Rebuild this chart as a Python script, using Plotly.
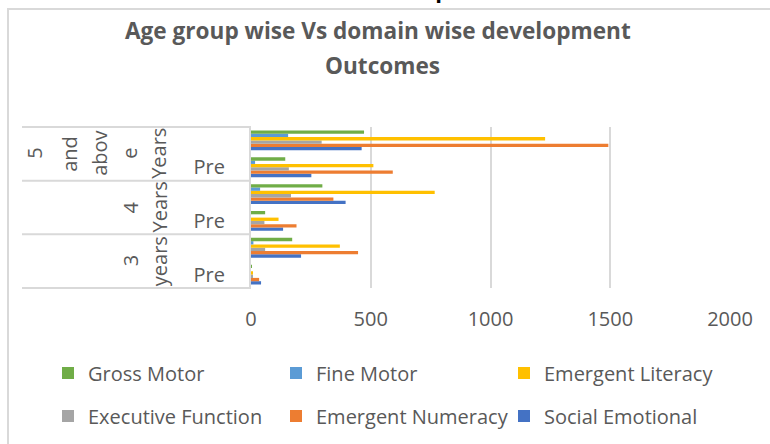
import plotly.graph_objects as go

# ---- data (bottom-to-top order of the y categories) ----
age_groups = ["3 years", "3 years", "4 Years", "4 Years", "5 and above Years", "5 and above Years"]
stages = ["Pre", "Post", "Pre", "Post", "Pre", "Post"]
stage_tick_labels = ["Pre", "", "Pre", "", "Pre", ""]

gross_motor = [3, 172, 59, 298, 143, 472]
fine_motor = [0, 10, 0, 38, 17, 155]
emergent_literacy = [6, 371, 115, 767, 511, 1228]
executive_function = [7, 59, 56, 167, 158, 295]
emergent_numeracy = [34, 447, 190, 344, 592, 1492]
social_emotional = [42, 209, 134, 395, 252, 462]

x_ticks = [0, 500, 1000, 1500, 2000]

categories = [f"{a} | {s}" for a, s in zip(age_groups, stages)]

FONT = "Open Sans, Liberation Sans, Arial, sans-serif"
TXT = "#595959"
GRID = "#D9D9D9"

# plot area in pixels
W, H = 770, 444
L, R, T, B = 251, 40, 127, 156
pw, ph = W - L - R, H - T - B

def px(xpix):
    return (xpix - L) / pw

def py(ypix):
    return (H - B - ypix) / ph

# series listed bottom-to-top inside each group (as drawn); legend slot (col, row)
series = [
    ("Social Emotional", social_emotional, "#4472C4", "legend6", 2, 1),
    ("Emergent Numeracy", emergent_numeracy, "#ED7D31", "legend5", 1, 1),
    ("Executive Function", executive_function, "#A5A5A5", "legend4", 0, 1),
    ("Emergent Literacy", emergent_literacy, "#FFC000", "legend3", 2, 0),
    ("Fine Motor", fine_motor, "#5B9BD5", "legend2", 1, 0),
    ("Gross Motor", gross_motor, "#70AD47", "legend", 0, 0),
]

legend_x = [48, 276, 504]
legend_y = [373, 416]

fig = go.Figure()
legends = {}
for name, vals, color, lg, col, row in series:
    fig.add_trace(go.Bar(
        y=categories, x=vals, name=name, orientation="h",
        marker=dict(color=color, line=dict(width=0)),
        legend=lg,
    ))
    legends[lg] = dict(orientation="h", x=px(legend_x[col]), y=py(legend_y[row]),
                       xanchor="left", yanchor="middle",
                       font=dict(size=20, color=TXT, family=FONT), bgcolor="rgba(0,0,0,0)")

fig.update_layout(
    width=W, height=H,
    margin=dict(l=L, r=R, t=T, b=B, autoexpand=False),
    paper_bgcolor="white", plot_bgcolor="white",
    barmode="group", bargap=0.26, bargroupgap=0,
    font=dict(family=FONT, size=20, color=TXT),
    xaxis=dict(range=[0, 2000], tickvals=x_ticks, showgrid=True, gridcolor=GRID,
               gridwidth=2, zeroline=False, showline=False,
               ticklabelstandoff=17, tickfont=dict(size=20, color=TXT), fixedrange=True),
    yaxis=dict(type="category", categoryorder="array", categoryarray=categories,
               tickvals=categories, ticktext=stage_tick_labels, range=[-0.5, 5.5],
               showgrid=False, showline=True, linecolor=GRID, linewidth=2,
               ticks="", ticklabelstandoff=20, tickfont=dict(size=20, color=TXT)),
    showlegend=True,
    **legends,
)

shapes = []
# outer chart border
shapes.append(dict(type="rect", xref="paper", yref="paper",
                   x0=px(8), x1=px(800), y0=py(480), y1=py(9),
                   line=dict(color=GRID, width=2), fillcolor="rgba(0,0,0,0)", layer="below"))
# group separators on the category axis
for yb in [0, 1/3, 2/3, 1]:
    shapes.append(dict(type="line", xref="paper", yref="paper",
                       x0=px(22), x1=0, y0=yb, y1=yb,
                       line=dict(color=GRID, width=2)))
fig.update_layout(shapes=shapes)

annotations = []
# titles
annotations.append(dict(text="<b>Graph – 1</b>", xref="paper", yref="paper",
                        x=px(447), y=py(6), xanchor="center", yanchor="bottom",
                        showarrow=False, font=dict(size=22, color="black", family=FONT)))
annotations.append(dict(text="<b>Age group wise Vs domain wise development</b>", xref="paper", yref="paper",
                        x=px(378), y=py(30), xanchor="center", yanchor="middle",
                        showarrow=False, font=dict(size=22.6, color=TXT, family=FONT)))
annotations.append(dict(text="<b>Outcomes</b>", xref="paper", yref="paper",
                        x=px(382), y=py(65), xanchor="center", yanchor="middle",
                        showarrow=False, font=dict(size=22.6, color=TXT, family=FONT)))

# outer (age group) labels, wrapped vertically like the original
outer = [
    (5 / 6, [("5", 35), ("and", 70), ("abov", 100), ("e", 130), ("Years", 159)]),
    (1 / 2, [("4", 130), ("Years", 159)]),
    (1 / 6, [("3", 130), ("years", 159)]),
]
for yc, words in outer:
    for w, xc in words:
        annotations.append(dict(text=w, xref="paper", yref="paper", x=px(xc), y=yc,
                                xanchor="center", yanchor="middle", textangle=-90,
                                showarrow=False, font=dict(size=20, color=TXT, family=FONT)))
fig.update_layout(annotations=annotations)

fig.write_html("out.html",
               config={"displayModeBar": False},
               post_script="document.body.style.margin='0';document.body.style.overflow='hidden';")
